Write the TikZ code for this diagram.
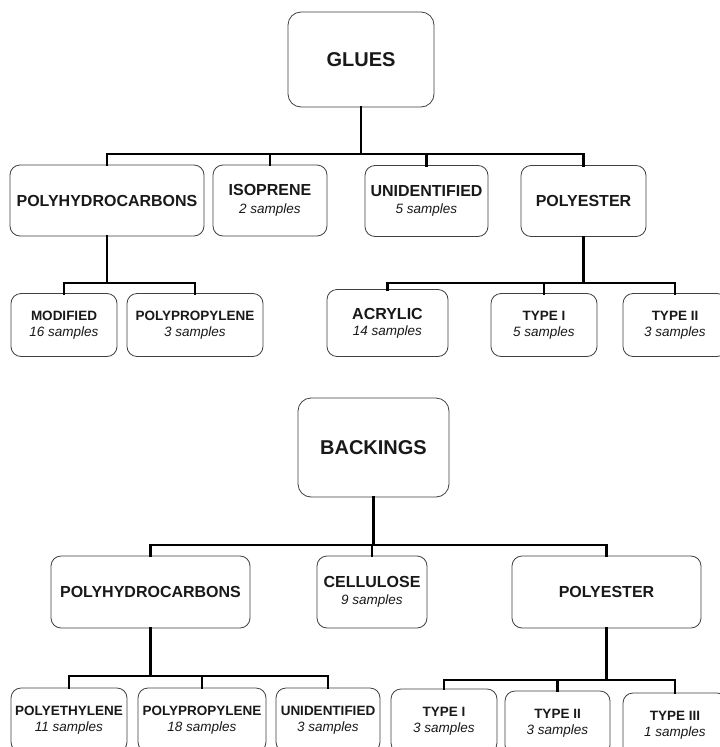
\documentclass[tikz,border=0pt]{standalone}
\usepackage{fontspec}
\setmainfont{Liberation Sans}
\begin{document}
\begin{tikzpicture}[x=1pt,y=-1pt,
  box/.style={draw=black!75, line width=0.8pt, rounded corners=10pt, align=center, inner sep=0pt, text=black!90},
  rootbox/.style={box, rounded corners=13pt, font=\fontsize{20}{22}\selectfont\bfseries},
  midbox/.style={box, font=\fontsize{16}{17.5}\selectfont},
  lowbox/.style={box, font=\fontsize{13.5}{16}\selectfont},
  conn/.style={line width=2.8pt, black, line cap=rect}]
\useasboundingbox (0,0) rectangle (720,747);
\clip (0,0) rectangle (720,747);
\fill[white] (0,0) rectangle (720,747);

% ---------------- GLUES ----------------
\node[rootbox, minimum width=146pt, minimum height=95pt] (glues) at (361,59.5) {GLUES};

\node[midbox, minimum width=194pt, minimum height=71pt] (gpoly) at (107,200.5) {\textbf{POLYHYDROCARBONS}};
\node[midbox, minimum width=114pt, minimum height=71pt] (giso) at (270,200.5) {\textbf{ISOPRENE}\\{\fontsize{13.5}{15}\selectfont\itshape 2 samples}};
\node[midbox, minimum width=123pt, minimum height=71pt] (gunid) at (426.5,201) {\textbf{UNIDENTIFIED}\\{\fontsize{13.5}{15}\selectfont\itshape 5 samples}};
\node[midbox, minimum width=125pt, minimum height=71pt] (gpes) at (583.5,201) {\textbf{POLYESTER}};

\node[lowbox, minimum width=106pt, minimum height=63pt] (gmod) at (64,325) {\textbf{MODIFIED}\\\textit{16 samples}};
\node[lowbox, minimum width=136pt, minimum height=63pt] (gpp) at (195,325) {\textbf{POLYPROPYLENE}\\\textit{3 samples}};
\node[lowbox, minimum width=121pt, minimum height=67pt] (gacr) at (387.5,323) {{\fontsize{16}{17}\selectfont\bfseries ACRYLIC}\\\textit{14 samples}};
\node[lowbox, minimum width=106pt, minimum height=63pt] (gt1) at (544,325) {\textbf{TYPE I}\\\textit{5 samples}};
\node[lowbox, minimum width=104pt, minimum height=63pt] (gt2) at (675,325) {\textbf{TYPE II}\\\textit{3 samples}};

\coordinate (gbus) at (361,154);
\coordinate (gpbus) at (107,283);
\coordinate (gebus) at (583.5,283);

\draw[conn] (glues.south) -- (gbus);
\draw[conn] (gpoly.north |- gbus) -- (gpes.north |- gbus);
\foreach \n in {gpoly,giso,gunid,gpes} \draw[conn] (\n.north |- gbus) -- (\n.north);

\draw[conn] (gpoly.south) -- (gpbus);
\draw[conn] (gmod.north |- gpbus) -- (gpp.north |- gpbus);
\foreach \n in {gmod,gpp} \draw[conn] (\n.north |- gpbus) -- (\n.north);

\draw[conn] (gpes.south) -- (gebus);
\draw[conn] (gacr.north |- gebus) -- (gt2.north |- gebus);
\foreach \n in {gacr,gt1,gt2} \draw[conn] (\n.north |- gebus) -- (\n.north);

% ---------------- BACKINGS ----------------
\node[rootbox, minimum width=151pt, minimum height=99pt] (back) at (373.5,447.5) {BACKINGS};

\node[midbox, minimum width=199pt, minimum height=72pt] (bpoly) at (150.5,592) {\textbf{POLYHYDROCARBONS}};
\node[midbox, minimum width=110pt, minimum height=72pt] (bcell) at (372,592) {\textbf{CELLULOSE}\\{\fontsize{13.5}{15}\selectfont\itshape 9 samples}};
\node[midbox, minimum width=189pt, minimum height=72pt] (bpes) at (606.5,592) {\textbf{POLYESTER}};

\node[lowbox, minimum width=116pt, minimum height=64pt] (bpe) at (69,720) {\textbf{POLYETHYLENE}\\\textit{11 samples}};
\node[lowbox, minimum width=128pt, minimum height=64pt] (bpp) at (202,720) {\textbf{POLYPROPYLENE}\\\textit{18 samples}};
\node[lowbox, minimum width=104pt, minimum height=64pt] (bunid) at (328,720) {\textbf{UNIDENTIFIED}\\\textit{3 samples}};
\node[lowbox, minimum width=106pt, minimum height=64pt] (bt1) at (444,721) {\textbf{TYPE I}\\\textit{3 samples}};
\node[lowbox, minimum width=105pt, minimum height=64pt] (bt2) at (557.5,723) {\textbf{TYPE II}\\\textit{3 samples}};
\node[lowbox, minimum width=104pt, minimum height=64pt] (bt3) at (675,725) {\textbf{TYPE III}\\\textit{1 samples}};

\coordinate (bbus) at (373.5,545);
\coordinate (bpbus) at (150.5,676);
\coordinate (bebus) at (606.5,680);

\draw[conn] (back.south) -- (bbus);
\draw[conn] (bpoly.north |- bbus) -- (bpes.north |- bbus);
\foreach \n in {bpoly,bcell,bpes} \draw[conn] (\n.north |- bbus) -- (\n.north);

\draw[conn] (bpoly.south) -- (bpbus);
\draw[conn] (bpe.north |- bpbus) -- (bunid.north |- bpbus);
\foreach \n in {bpe,bpp,bunid} \draw[conn] (\n.north |- bpbus) -- (\n.north);

\draw[conn] (bpes.south) -- (bebus);
\draw[conn] (bt1.north |- bebus) -- (bt3.north |- bebus);
\foreach \n in {bt1,bt2,bt3} \draw[conn] (\n.north |- bebus) -- (\n.north);
\end{tikzpicture}
\end{document}
